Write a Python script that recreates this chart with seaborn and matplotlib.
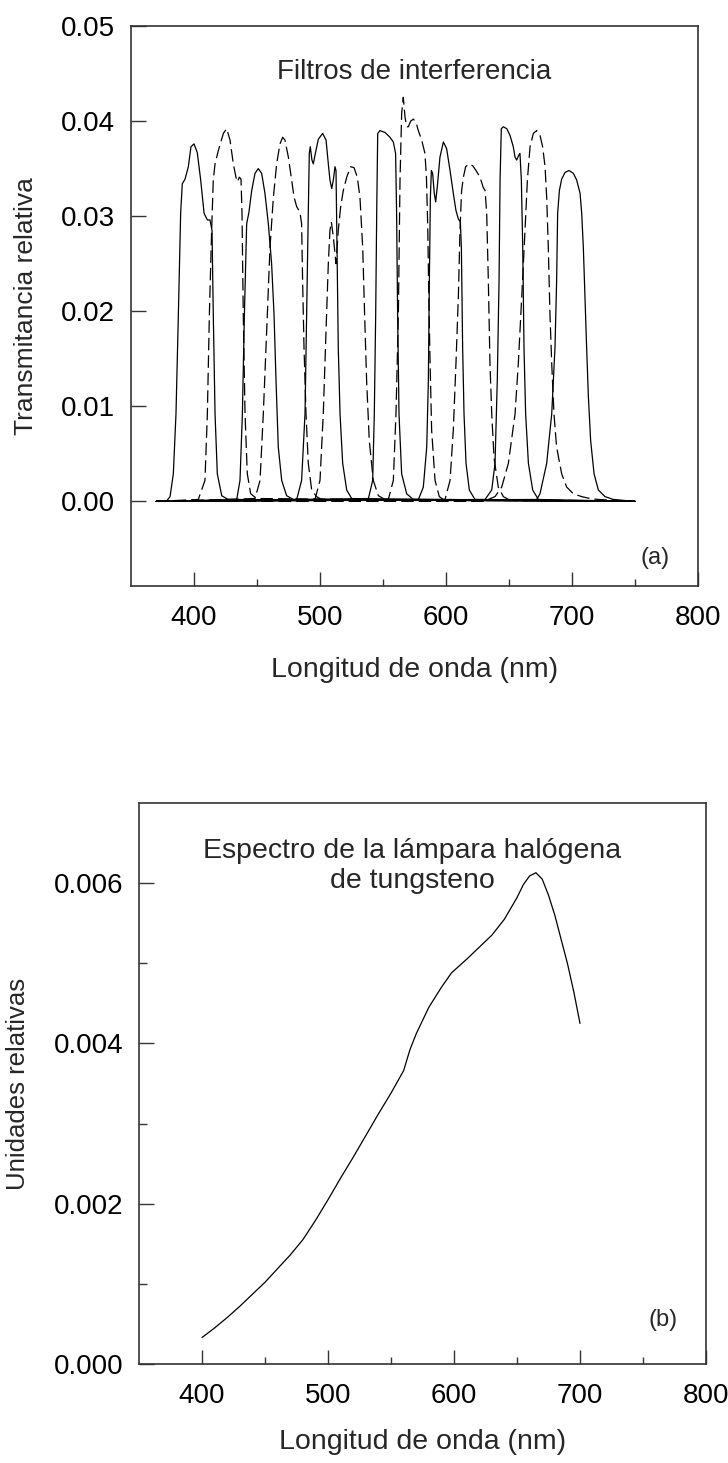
import matplotlib
matplotlib.use("Agg")
import matplotlib.pyplot as plt
from matplotlib.ticker import FormatStrFormatter
import seaborn as sns
import pandas as pd

# ---------------- data ----------------
f01_wl = [370, 378, 381, 383.6, 385.7, 387.6, 389.4, 390.7, 392.9, 395.5, 397.6, 400, 402.6, 405.3, 408, 410.6, 412.7, 414.3, 415.3, 416.7, 418.5, 422, 427, 750]
f01_t = [0, 0, 0.0005, 0.0029, 0.0092, 0.0197, 0.0303, 0.0334, 0.0339, 0.0352, 0.0373, 0.0376, 0.0367, 0.0338, 0.0303, 0.0296, 0.0296, 0.0285, 0.0197, 0.0092, 0.0029, 0.0006, 0.0002, 0]

f02_wl = [370, 403.4, 408.7, 410.6, 412.2, 414, 415.3, 416.7, 419.3, 423.3, 425.9, 428.6, 431.2, 433.3, 434.4, 436, 437.3, 438.1, 439.1, 440.5, 442.3, 445, 449.7, 750]
f02_t = [0, 0.0002, 0.0022, 0.0092, 0.0197, 0.0285, 0.0338, 0.0355, 0.0369, 0.0387, 0.0392, 0.038, 0.0355, 0.0341, 0.0336, 0.0341, 0.0339, 0.0303, 0.0197, 0.0092, 0.0029, 0.0008, 0.0003, 0]

f03_wl = [370, 433.9, 436.5, 438.4, 440, 441.8, 443.6, 445.8, 448.4, 451, 453.7, 456.3, 459, 461.6, 463.5, 465.1, 466.9, 469.6, 473.5, 478.8, 750]
f03_t = [0, 0.0002, 0.0022, 0.0092, 0.0197, 0.0292, 0.0304, 0.0327, 0.0345, 0.035, 0.0345, 0.0324, 0.0292, 0.025, 0.0197, 0.0127, 0.0057, 0.0022, 0.0006, 0.0002, 0]

f04_wl = [370, 448.4, 452.4, 455, 457.7, 460.3, 463, 465.6, 468.2, 470.4, 472.2, 474.9, 477.5, 479.4, 481.5, 484.1, 485.4, 486.2, 487.3, 488.9, 490.7, 493.4, 497.3, 501.3, 750]
f04_t = [0, 0.0003, 0.0022, 0.0092, 0.018, 0.0267, 0.032, 0.0355, 0.0376, 0.0383, 0.038, 0.0362, 0.0338, 0.032, 0.031, 0.0304, 0.0292, 0.0232, 0.0162, 0.0092, 0.004, 0.0012, 0.0005, 0.0002, 0]

f05_wl = [370, 481.5, 485.4, 488.1, 489.4, 490.7, 491.5, 492.3, 493.6, 494.7, 496.3, 498.7, 502.1, 504.8, 506.6, 507.9, 509.3, 510.6, 511.9, 512.7, 513.5, 514.5, 515.9, 518, 521.2, 525.1, 750]
f05_t = [0, 0.0002, 0.0022, 0.0092, 0.0197, 0.0303, 0.0366, 0.0373, 0.0359, 0.0355, 0.0366, 0.0381, 0.0387, 0.038, 0.0355, 0.0338, 0.0329, 0.0338, 0.0352, 0.0348, 0.0267, 0.0162, 0.0092, 0.004, 0.0012, 0.0003, 0]

f06_wl = [370, 496, 500, 502.6, 504.8, 506.6, 507.9, 509, 510.6, 512.7, 514.5, 516.4, 518.5, 521.2, 524.3, 527, 529.6, 531.7, 533.9, 535.4, 537, 539.1, 542.3, 546.3, 551.6, 750]
f06_t = [0, 0.0002, 0.0022, 0.0092, 0.018, 0.025, 0.0285, 0.0294, 0.0278, 0.025, 0.0285, 0.031, 0.0327, 0.0341, 0.0352, 0.0351, 0.0341, 0.032, 0.0267, 0.0197, 0.0127, 0.0064, 0.0022, 0.0006, 0.0002, 0]

f07_wl = [370, 538.4, 541.8, 543.1, 544.2, 545, 545.8, 547.6, 551.6, 555.5, 558.2, 560, 560.8, 561.6, 562.7, 564.8, 568.8, 574, 750]
f07_t = [0, 0.0003, 0.0022, 0.0092, 0.0197, 0.0303, 0.0387, 0.039, 0.0388, 0.0383, 0.0378, 0.0366, 0.0303, 0.0197, 0.0092, 0.0029, 0.0008, 0.0002, 0]

f08_wl = [370, 554.2, 558.2, 560.3, 562.2, 563.5, 564.8, 566.1, 567.5, 568.8, 570.1, 572, 574.1, 576.2, 578, 580.7, 583.3, 584.5, 585.5, 586.3, 587.3, 588.6, 591.3, 594.7, 597.9, 750]
f08_t = [0, 0.0002, 0.0022, 0.0092, 0.0197, 0.0338, 0.0408, 0.0425, 0.0404, 0.0394, 0.0394, 0.04, 0.0402, 0.0399, 0.039, 0.038, 0.0366, 0.034, 0.029, 0.022, 0.015, 0.0075, 0.0022, 0.0005, 0.0002, 0]

f09_wl = [370, 578.1, 582, 584.7, 586, 586.8, 587.6, 588.4, 589.4, 590.7, 591.8, 593.1, 595.2, 597.9, 600.5, 603.2, 605.8, 607.9, 609.8, 611.4, 612.2, 613.2, 614.3, 615.9, 618.5, 623, 750]
f09_t = [0, 0.0002, 0.0015, 0.0057, 0.0127, 0.0232, 0.032, 0.0348, 0.0345, 0.0324, 0.0315, 0.0331, 0.0362, 0.0378, 0.0371, 0.0348, 0.0324, 0.0306, 0.0297, 0.0294, 0.0267, 0.0162, 0.0092, 0.004, 0.0012, 0.0002, 0]

f10_wl = [370, 599.2, 603.2, 605.8, 607.9, 609.8, 611.1, 612.4, 613.8, 615.6, 618.3, 621.2, 623.8, 627, 629.6, 631, 632.3, 633.6, 634.9, 636.3, 638.1, 641.5, 645.5, 649.5, 750]
f10_t = [0, 0.0002, 0.0022, 0.0075, 0.0145, 0.0215, 0.0285, 0.0327, 0.0341, 0.0352, 0.0355, 0.0353, 0.0348, 0.0341, 0.033, 0.0327, 0.0303, 0.0232, 0.0145, 0.0092, 0.0046, 0.0015, 0.0005, 0.0002, 0]

f11_wl = [370, 631, 636.3, 638.9, 640.7, 642.1, 642.9, 643.9, 645.5, 648.2, 650.8, 653.4, 654.8, 656.1, 657.7, 658.7, 659.8, 660.9, 661.9, 663.2, 665.4, 668.8, 673.3, 750]
f11_t = [0, 0.0002, 0.0012, 0.004, 0.0127, 0.0232, 0.0338, 0.0392, 0.0394, 0.0392, 0.0385, 0.0373, 0.0362, 0.0359, 0.0364, 0.0366, 0.0338, 0.0267, 0.0162, 0.0092, 0.004, 0.0012, 0.0002, 0]

f12_wl = [370, 630, 638.9, 644.2, 649.5, 654.8, 657.4, 660.1, 662.7, 664.6, 666.7, 669.3, 672, 674.6, 676.7, 678.6, 679.9, 681.2, 682.5, 683.9, 685.7, 687.8, 691.8, 695.8, 701.1, 707.7, 714.3, 720.9, 750]
f12_t = [0, 0, 0.0005, 0.0015, 0.004, 0.0092, 0.0145, 0.0215, 0.0285, 0.0338, 0.0373, 0.0387, 0.039, 0.0385, 0.0373, 0.0352, 0.032, 0.0267, 0.0197, 0.0145, 0.0092, 0.0057, 0.0029, 0.0015, 0.0008, 0.0005, 0.0003, 0.0002, 0]

f13_wl = [370, 672, 674.6, 679.9, 683.9, 686.5, 687.8, 688.6, 690, 691.8, 694.5, 697.6, 701.1, 703.7, 706.4, 707.7, 709, 710.3, 711.6, 713, 714.8, 717.5, 720.9, 726.2, 732.8, 750]
f13_t = [0, 0.0002, 0.0008, 0.004, 0.0092, 0.0162, 0.0232, 0.0303, 0.0327, 0.0339, 0.0346, 0.0348, 0.0345, 0.0338, 0.0324, 0.0303, 0.0267, 0.0215, 0.0162, 0.011, 0.0064, 0.0029, 0.0012, 0.0005, 0.0002, 0]

filter_styles = ["solid", "dashed", "solid", "dashed", "solid", "dashed", "solid",
                 "dashed", "solid", "dashed", "solid", "dashed", "solid"]

lamp_wl = [400, 410, 420, 430, 440, 450, 460, 470, 480, 490, 500, 510, 520, 530, 540, 550,
           560, 565, 570, 580, 590, 598, 610, 620, 630, 640, 650, 655, 660, 665, 670, 675,
           680, 685, 690, 695, 700]
lamp_val = [0.00033, 0.00045, 0.00058, 0.00072, 0.00087, 0.00102, 0.00119, 0.00136, 0.00155,
            0.00179, 0.00205, 0.00232, 0.00258, 0.00285, 0.00312, 0.00338, 0.00366, 0.00392,
            0.00412, 0.00445, 0.00470, 0.00488, 0.00505, 0.00520, 0.00535, 0.00555, 0.00582,
            0.00598, 0.00609, 0.00613, 0.00605, 0.00585, 0.00560, 0.00530, 0.00500, 0.00465,
            0.00425]

x_major = [400, 500, 600, 700, 800]
x_minor = [450, 550, 650, 750]
top_yticks = [0.00, 0.01, 0.02, 0.03, 0.04, 0.05]
bot_yticks = [0.000, 0.002, 0.004, 0.006]
bot_yminor = [0.001, 0.003, 0.005]

# ---------------- build table ----------------
filters = [(f01_wl, f01_t), (f02_wl, f02_t), (f03_wl, f03_t), (f04_wl, f04_t),
           (f05_wl, f05_t), (f06_wl, f06_t), (f07_wl, f07_t), (f08_wl, f08_t),
           (f09_wl, f09_t), (f10_wl, f10_t), (f11_wl, f11_t), (f12_wl, f12_t),
           (f13_wl, f13_t)]
rows = []
for i, ((wl, t), st) in enumerate(zip(filters, filter_styles)):
    for w, v in zip(wl, t):
        rows.append({"wl": w, "T": v, "filter": i, "kind": st})
df = pd.DataFrame(rows)
lamp = pd.DataFrame({"wl": lamp_wl, "val": lamp_val})

# ---------------- style ----------------
sns.set_style("ticks")
plt.rcParams["font.family"] = ["Liberation Sans", "DejaVu Sans"]
FS = 20
spine_c = "#333333"

fig = plt.figure(figsize=(7.28, 14.63), dpi=100)
ax1 = fig.add_axes([131 / 728, 1 - 586 / 1463, 567 / 728, 560 / 1463])
ax2 = fig.add_axes([139 / 728, 1 - 1364 / 1463, 567 / 728, 561 / 1463])

sns.lineplot(data=df, x="wl", y="T", units="filter", estimator=None, style="kind",
             dashes={"solid": "", "dashed": (10, 4)}, color="black", linewidth=0.9,
             legend=False, ax=ax1)
sns.lineplot(data=lamp, x="wl", y="val", color="black", linewidth=0.9, ax=ax2)

for ax in (ax1, ax2):
    ax.set_xlim(350, 800)
    ax.set_xticks(x_major)
    ax.set_xticks(x_minor, minor=True)
    for s in ax.spines.values():
        s.set_visible(True)
        s.set_color(spine_c)
        s.set_linewidth(1.2)
    ax.tick_params(axis="both", which="both", direction="in", colors=spine_c,
                   labelcolor="black", labelsize=FS, width=1.0)
    ax.tick_params(axis="x", which="major", length=10, pad=14)
    ax.tick_params(axis="x", which="minor", length=5)
    ax.tick_params(axis="y", which="major", length=11, pad=11.5)
    ax.tick_params(axis="y", which="minor", length=6)
    ax.set_xlabel("Longitud de onda (nm)", fontsize=20.5)

ax1.set_ylim(-0.0089, 0.05)
ax1.set_yticks(top_yticks)
ax1.yaxis.set_major_formatter(FormatStrFormatter("%.2f"))
ax1.set_ylabel("Transmitancia relativa", fontsize=19)
ax1.yaxis.set_label_coords(-0.164, 0.5)
ax1.xaxis.set_label_coords(0.5, -0.127)
ax1.text(0.5, 0.918, "Filtros de interferencia", transform=ax1.transAxes,
         ha="center", va="center", fontsize=FS)
ax1.text(0.924, 0.05, "(a)", transform=ax1.transAxes, ha="center", va="center",
         fontsize=17)

ax2.set_ylim(0, 0.007)
ax2.set_yticks(bot_yticks)
ax2.set_yticks(bot_yminor, minor=True)
ax2.yaxis.set_major_formatter(FormatStrFormatter("%.3f"))
ax2.set_ylabel("Unidades relativas", fontsize=18.5)
ax2.yaxis.set_label_coords(-0.192, 0.5)
ax2.xaxis.set_label_coords(0.5, -0.116)
ax2.text(0.482, 0.888, "Espectro de la lámpara halógena\nde tungsteno",
         transform=ax2.transAxes, ha="center", va="center", fontsize=20.5,
         linespacing=1.22)
ax2.text(0.924, 0.078, "(b)", transform=ax2.transAxes, ha="center", va="center",
         fontsize=17)

fig.savefig("out.png", dpi=100)
